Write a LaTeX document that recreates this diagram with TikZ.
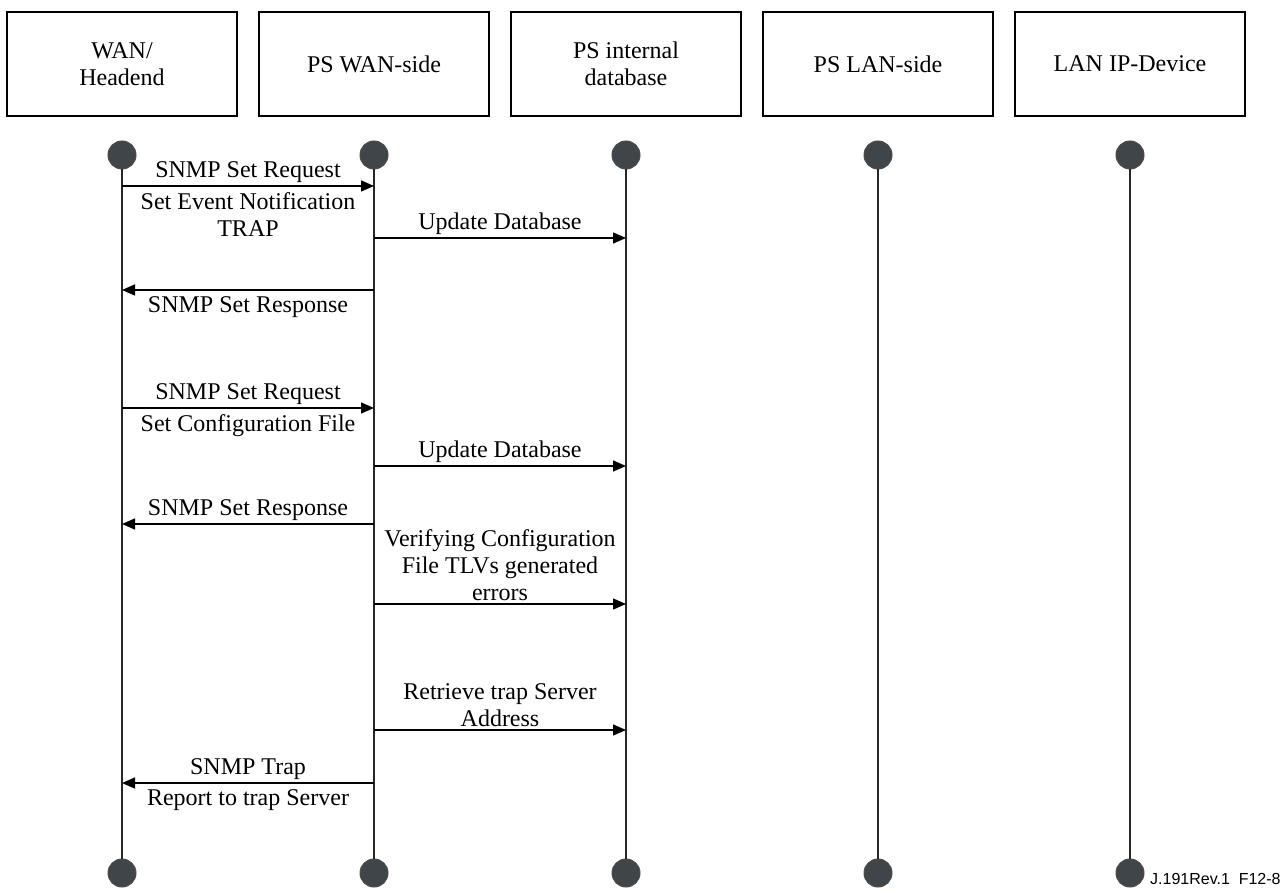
\documentclass[tikz,border=0pt]{standalone}
\usepackage{fontspec}
\setmainfont{Liberation Serif}
\newfontfamily\tagfont{Liberation Sans}
\usetikzlibrary{arrows.meta,positioning}
\definecolor{dotgray}{HTML}{3F4548}
\def\lanesep{252}
\tikzstyle{msg} = [line width=0.75pt,-{Triangle[length=6.5pt,width=5.5pt]}]

\begin{document}
\begin{tikzpicture}[x=0.5pt,y=-0.5pt,font=\fontsize{12}{13.5}\selectfont]
    \tikzstyle{actor}=[draw,line width=1pt,minimum width=115pt,minimum height=52pt,align=center,inner sep=2pt]
    \tikzstyle{dot}=[circle,fill=dotgray,draw=black!70,line width=0.5pt,minimum size=14pt,inner sep=0pt]
    \tikzstyle{lifeline}=[line width=0.7pt,draw=black!85]
    \tikzstyle{above label}=[above,inner sep=1.5pt,align=center]
    \tikzstyle{below label}=[below,inner sep=3pt,align=center]

    \useasboundingbox (0,0) rectangle (1283,892);

    % Draw the participant boxes
    \node[actor] (wan) at (122,64) {WAN/\\Headend};
    \node[actor] (pswan) at (122+\lanesep,64) {PS WAN-side};
    \node[actor] (psdb) at (122+2*\lanesep,64) {PS internal\\database};
    \node[actor] (pslan) at (122+3*\lanesep,64) {PS LAN-side};
    \node[actor] (landev) at (122+4*\lanesep,64) {LAN IP-Device};

    % Draw the lifelines with their end dots
    \foreach \i in {1,...,5} {
        \node[dot] (t\i) at ({122+(\i-1)*\lanesep},155) {};
        \node[dot] (b\i) at ({122+(\i-1)*\lanesep},873) {};
        \draw[lifeline] (t\i) -- (b\i);
    }

    % First request: event notification trap
    \draw[msg] (t1 |- 0,186) -- (t2 |- 0,186)
        node[midway,above label] {SNMP Set Request}
        node[midway,below label] {Set Event Notification\\TRAP};
    \draw[msg] (t2 |- 0,238) -- (t3 |- 0,238)
        node[midway,above label] {Update Database};
    \draw[msg] (t2 |- 0,290) -- (t1 |- 0,290)
        node[midway,below label] {SNMP Set Response};

    % Second request: configuration file
    \draw[msg] (t1 |- 0,408) -- (t2 |- 0,408)
        node[midway,above label] {SNMP Set Request}
        node[midway,below label] {Set Configuration File};
    \draw[msg] (t2 |- 0,466) -- (t3 |- 0,466)
        node[midway,above label] {Update Database};
    \draw[msg] (t2 |- 0,524) -- (t1 |- 0,524)
        node[midway,above label] {SNMP Set Response};

    % Error handling and trap
    \draw[msg] (t2 |- 0,604) -- (t3 |- 0,604)
        node[midway,above label] {Verifying Configuration\\File TLVs generated\\errors};
    \draw[msg] (t2 |- 0,730) -- (t3 |- 0,730)
        node[midway,above label] {Retrieve trap Server\\Address};
    \draw[msg] (t2 |- 0,783) -- (t1 |- 0,783)
        node[midway,above label] {SNMP Trap}
        node[midway,below label] {Report to trap Server};

    \node[anchor=base east,inner sep=0pt,font=\tagfont\fontsize{8}{9.5}\selectfont] (tag) at (1281,884) {J.191Rev.1\ \ F12-8};
\end{tikzpicture}
\end{document}
